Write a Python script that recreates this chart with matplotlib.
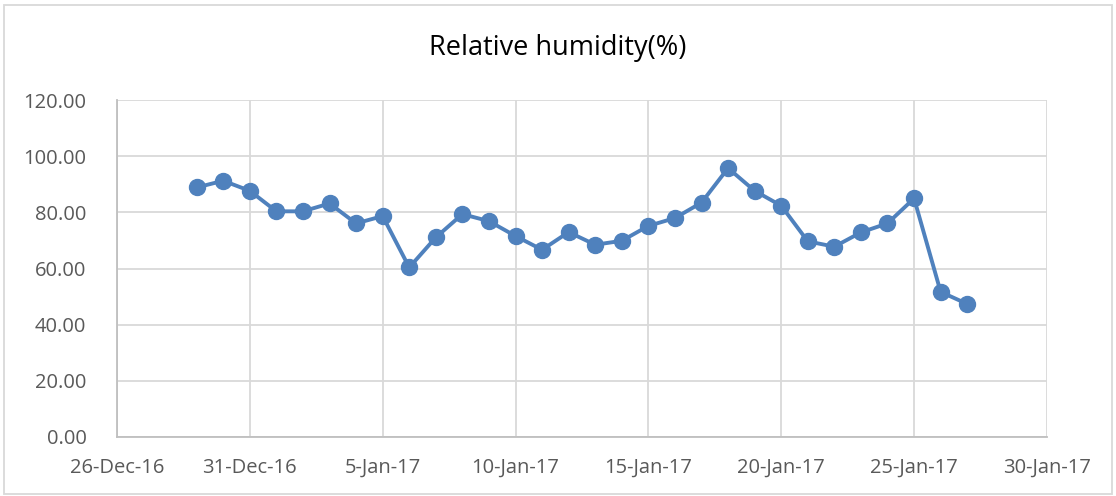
import numpy as np
import matplotlib.pyplot as plt
import matplotlib.dates as mdates
from matplotlib.patches import Rectangle
from datetime import date, timedelta

plt.rcParams['font.family'] = ['Open Sans', 'DejaVu Sans']

# Daily relative humidity readings
start = date(2016, 12, 29)
humidity = [88.9, 91.3, 87.7, 80.4, 80.4, 83.2, 76.1, 78.7, 60.4, 71.1,
            79.4, 76.9, 71.6, 66.7, 73.0, 68.5, 69.9, 75.2, 78.0, 83.5,
            95.8, 87.7, 82.4, 69.7, 67.8, 72.9, 76.1, 85.0, 51.7, 47.4]
days = [start + timedelta(days=i) for i in range(len(humidity))]

x_ticks = [date(2016, 12, 26) + timedelta(days=5 * i) for i in range(8)]
y_ticks = [0, 20, 40, 60, 80, 100, 120]

grid_col = '#d9d9d9'
text_col = '#595959'
line_col = '#4f81bd'

fig = plt.figure(figsize=(11.16, 4.96), dpi=100)
ax = fig.add_axes([0.1048, 0.119, 0.8333, 0.679])

ax.plot(days, humidity, color=line_col, lw=2.8, marker='o', ms=11.5,
        markeredgecolor=line_col, zorder=3)

ax.set_xlim(x_ticks[0], x_ticks[-1])
ax.set_ylim(0, 120)
ax.set_xticks(x_ticks)
ax.xaxis.set_major_formatter(mdates.DateFormatter('%-d-%b-%y'))
ax.set_yticks(y_ticks)
ax.set_yticklabels([f'{v:.2f}' for v in y_ticks])

ax.grid(True, color=grid_col, lw=1.3)
ax.set_axisbelow(True)
for side in ['top', 'right']:
    ax.spines[side].set_visible(False)
for side in ['left', 'bottom']:
    ax.spines[side].set_color('#bfbfbf')
    ax.spines[side].set_linewidth(1.3)
ax.tick_params(axis='both', length=0, labelcolor=text_col, labelsize=14.5)
ax.tick_params(axis='x', pad=15)
ax.tick_params(axis='y', pad=22)

fig.text(0.5, 0.903, 'Relative humidity(%)', ha='center', va='center',
         fontsize=19.5, color='black')

# light frame around the whole chart
fig.patches.append(Rectangle((0.004, 0.004), 0.992, 0.985, transform=fig.transFigure,
                             fill=False, edgecolor=grid_col, lw=1.3))

fig.savefig('out.png', dpi=100)
